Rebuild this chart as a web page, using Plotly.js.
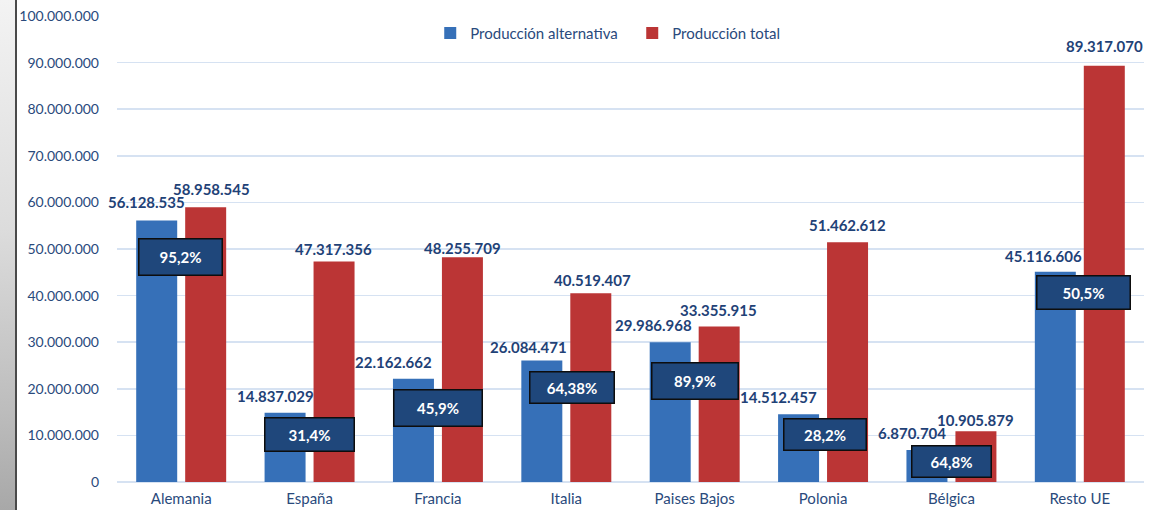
<!DOCTYPE html>
<html>
<head>
<meta charset="utf-8">
<script src="https://cdn.plot.ly/plotly-3.0.1.min.js"></script>
<style>
  html, body { margin: 0; padding: 0; background: #ffffff; }
  #wrap { position: relative; width: 1165px; height: 510px; }
  #chart { position: absolute; left: 0; top: 0; width: 1165px; height: 510px; }
  #frame { position: absolute; left: 0; top: 0; width: 15px; height: 510px;
           background: linear-gradient(to bottom, #f3f3f3 0%, #dcdcdc 45%, #bdbdbd 80%, #a8a8a8 100%);
           border-right: 2px solid #4a4a4a; z-index: 5; }
</style>
</head>
<body>
<div id="wrap">
  <div id="chart"></div>
  <div id="frame"></div>
</div>
<script>
// ---- data ----
const categories = ["Alemania", "España", "Francia", "Italia", "Paises Bajos", "Polonia", "Bélgica", "Resto UE"];
const produccionAlternativa = [56128535, 14837029, 22162662, 26084471, 29986968, 14512457, 6870704, 45116606];
const produccionTotal = [58958545, 47317356, 48255709, 40519407, 33355915, 51462612, 10905879, 89317070];
const porcentajeLabels = ["95,2%", "31,4%", "45,9%", "64,38%", "89,9%", "28,2%", "64,8%", "50,5%"];
const seriesNames = ["Producción alternativa", "Producción total"];

// ---- label placement (styling, not data) ----
const altLabelDx = [-10, -9.5, -20, -13.5, -16.5, -20, -14.5, -12];
const altLabelDy = [18, 17, 17, 13, 17, 17, 17, 16];
const totLabelDx = [5.5, -1, 0, 2, -0.5, 0, -0.5, 0];
const totLabelDy = [18.5, 13, 9, 13, 17, 17, 11, 20];
const pctBoxY = [48.2e6, 10.13e6, 15.8e6, 20.2e6, 21.6e6, 10.24e6, 4.44e6, 40.6e6];
const pctBoxDx = [-0.5, -0.5, 0.5, 6, 0, 2, 0.5, 3.5];
const pctBoxW = [85, 91, 90, 86, 88, 84, 81, 95];
const pctBoxH = [38, 35, 38, 33, 38, 33, 33, 35];

const FONT = "Lato, 'Open Sans', sans-serif";
const TXT = "#2a4a7c";
const LBL = "#1f4277";
const halfSlot = 24.5;

function fmt(n) {
  return String(n).replace(/\B(?=(\d{3})+(?!\d))/g, ".");
}

const traces = [
  {
    type: "bar", name: seriesNames[0], x: categories, y: produccionAlternativa,
    marker: { color: "#3670b8" }, hoverinfo: "skip"
  },
  {
    type: "bar", name: seriesNames[1], x: categories, y: produccionTotal,
    marker: { color: "#bb3535" }, hoverinfo: "skip"
  }
];

const annotations = [];
categories.forEach((c, i) => {
  annotations.push({
    x: c, y: produccionAlternativa[i], xref: "x", yref: "y",
    text: "<b>" + fmt(produccionAlternativa[i]) + "</b>", showarrow: false,
    xanchor: "center", yanchor: "middle",
    xshift: -halfSlot + altLabelDx[i], yshift: altLabelDy[i],
    font: { family: FONT, size: 15, color: LBL }
  });
  annotations.push({
    x: c, y: produccionTotal[i], xref: "x", yref: "y",
    text: "<b>" + fmt(produccionTotal[i]) + "</b>", showarrow: false,
    xanchor: "center", yanchor: "middle",
    xshift: halfSlot + totLabelDx[i], yshift: totLabelDy[i],
    font: { family: FONT, size: 15, color: LBL }
  });
  annotations.push({
    x: c, y: pctBoxY[i], xref: "x", yref: "y",
    text: "<b>" + porcentajeLabels[i] + "</b>", showarrow: false,
    xanchor: "center", yanchor: "middle", xshift: pctBoxDx[i],
    width: pctBoxW[i] - 3, height: pctBoxH[i] - 3, borderpad: 0,
    bgcolor: "#1f477b", bordercolor: "#0d0d0d", borderwidth: 1.5,
    font: { family: FONT, size: 15, color: "#ffffff" }
  });
});

const layout = {
  width: 1165, height: 510,
  margin: { l: 117, r: 21, t: 16, b: 28, pad: 0, autoexpand: false },
  paper_bgcolor: "#ffffff", plot_bgcolor: "#ffffff",
  separators: ",.",
  font: { family: FONT, size: 14, color: TXT },
  barmode: "group", bargap: 0.237, bargroupgap: 0.163,
  showlegend: true,
  legend: {
    orientation: "h", x: 0.305, xanchor: "left", y: 0.963, yanchor: "middle",
    entrywidth: 157, entrywidthmode: "pixels",
    font: { family: FONT, size: 15, color: TXT }, bgcolor: "rgba(0,0,0,0)",
    traceorder: "normal"
  },
  xaxis: {
    type: "category", range: [-0.5, 7.5], autorange: false,
    showgrid: false, zeroline: false, showline: false,
    ticks: "", ticklabelstandoff: 6, automargin: false,
    tickfont: { family: FONT, size: 15, color: TXT }
  },
  yaxis: {
    range: [0, 100000000], autorange: false, dtick: 10000000, tick0: 0,
    tickformat: ",d", showgrid: true, gridcolor: "#d6e2f2", gridwidth: 1.5,
    zeroline: true, zerolinecolor: "#d6e2f2", zerolinewidth: 1.5,
    showline: false, ticks: "", ticklabelstandoff: 17, automargin: false,
    tickfont: { family: FONT, size: 14, color: TXT }
  },
  annotations: annotations
};

Plotly.newPlot("chart", traces, layout, { displayModeBar: false, staticPlot: true });
</script>
</body>
</html>
